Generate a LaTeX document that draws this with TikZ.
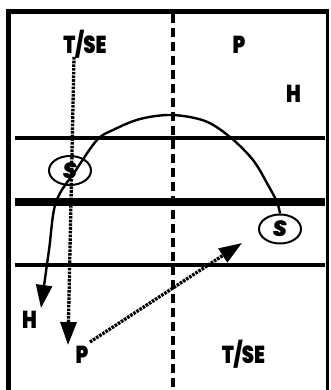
\documentclass[tikz,border=0pt]{standalone}
\usepackage{fontspec}
\newfontfamily\lab{Poppins Black}[FakeStretch=0.8]
\newfontfamily\slab{Poppins Black Italic}
\usetikzlibrary{arrows.meta,shapes.geometric}
\tikzset{
  lbl/.style={font=\lab\fontsize{24.5}{24.5}\selectfont, anchor=base, inner sep=0pt},
  sbox/.style={draw, ellipse, line width=2pt, minimum width=42pt, minimum height=29pt, inner sep=0pt, font=\slab\fontsize{22}{22}\selectfont},
  hline/.style={line width=4pt},
  dots/.style={line width=3.3pt, dash pattern=on 2.6pt off 1.1pt},
  bigtip/.style={-{Triangle[length=23pt,width=16pt]}},
}
\begin{document}
\begin{tikzpicture}[x=1pt,y=-1pt]
\useasboundingbox (0,0) rectangle (331,390);
% frame
\draw[line width=5pt] (8.5,392) -- (8.5,11.5) -- (327.5,11.5);
\draw[line width=3pt] (327.5,9) -- (327.5,392);
% horizontal lines
\draw[hline] (15,138) -- (325,138);
\draw[line width=7.5pt] (15,202) -- (325,202);
\draw[hline] (15,265) -- (325,265);
% center dashed line
\draw[line width=3.5pt, dash pattern=on 9pt off 5pt] (173,14) -- (173,392);
% labels
\node[lbl] (tse1) at (85,53.5) {T/SE};
\node[lbl] (p1) at (239,53.5) {P};
\node[lbl] (h1) at (293.5,102.5) {H};
\node[lbl] (h2) at (29.5,328.5) {H};
\node[lbl] (p2) at (82,363.5) {P};
\node[lbl] (tse2) at (243.5,363.5) {T/SE};
% S circles
\node[sbox] (s1) at (70,170.5) {S};
\node[sbox] (s2) at (280,229) {S};
% solid run arrow
\coordinate (hend) at (41,308);
\draw[line width=2.4pt, bigtip] plot[smooth, tension=0.55] coordinates {
  (s2.north) (277,202) (268,185) (253,160) (230,137) (205,121) (172,115)
  (140,119) (113,130) (97,140) (76,170) (56,202) (49,250) (hend)};
% dotted arrows
\coordinate (dtop) at (74,57);
\coordinate (dend) at (68,345);
\draw[dots, bigtip] (dtop) -- (dend);
\coordinate (pstart) at (90,342);
\coordinate (pend) at (242,243);
\draw[dots, bigtip] (pstart) -- (pend);
\end{tikzpicture}
\end{document}
